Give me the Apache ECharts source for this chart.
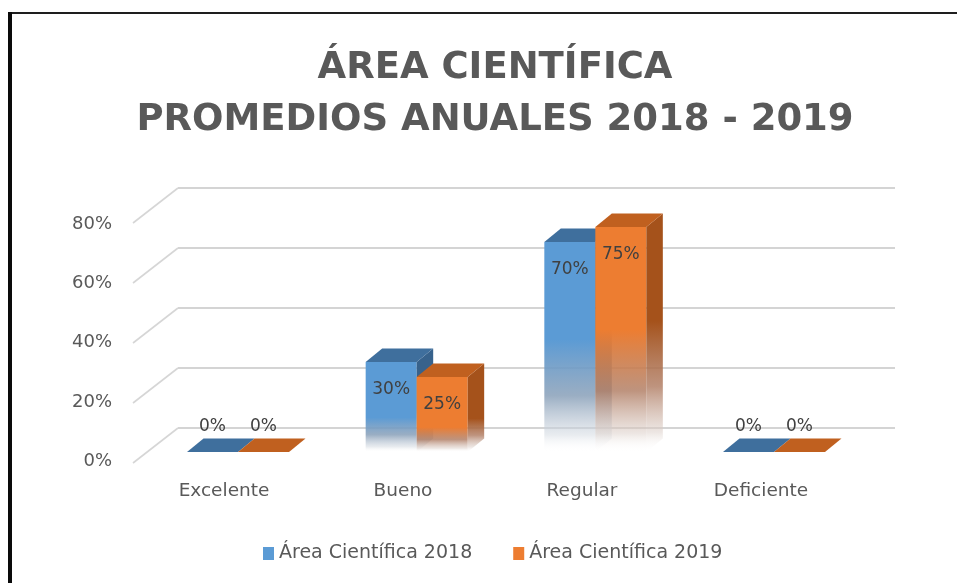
<!DOCTYPE html>
<html>
<head>
<meta charset="utf-8">
<script src="https://cdn.jsdelivr.net/npm/echarts@6/dist/echarts.min.js"></script>
<style>
  html, body { margin: 0; padding: 0; background: #ffffff; }
  #chart { width: 957px; height: 583px; }
</style>
</head>
<body>
<div id="chart"></div>
<script>
// ---- data ----
const categories = ['Excelente', 'Bueno', 'Regular', 'Deficiente'];
const seriesNames = ['Área Científica 2018', 'Área Científica 2019'];
const values2018 = [0, 30, 70, 0];
const values2019 = [0, 25, 75, 0];
const yTickValues = [0, 20, 40, 60, 80];

// ---- styling ----
const FONT = 'DejaVu Sans';
const TEXT_GREY = '#595959';
const PALETTE = [
  { front: '#5b9bd5', top: '#3f6f9d', side: '#37628c',
    fadeMid: 'rgba(132,156,182,0.82)', fadeLow: 'rgba(214,220,227,0.55)', fadeEnd: 'rgba(255,255,255,0)' },
  { front: '#ed7d31', top: '#c0601f', side: '#a5521b',
    fadeMid: 'rgba(176,124,98,0.82)', fadeLow: 'rgba(222,210,204,0.55)', fadeEnd: 'rgba(255,255,255,0)' }
];
const DEPTH = [16.5, -13.5];      // oblique offset of a bar's back faces
const WALL_DEPTH = [-45, 35];     // from back wall to front edge of the floor
const BAR_FRACTION = 0.2855;      // one bar's width as share of the category band

const yMax = yTickValues[yTickValues.length - 1];
const yStep = yTickValues[1] - yTickValues[0];

// glassy fade towards the floor; taller boxes fade over a longer stretch
function fadeGradient(solid, c, h) {
  const fadeLen = Math.max(20, 0.65 * h - 24);
  const s = Math.min(0.9, Math.max(0.3, 1 - fadeLen / h));
  const r = 1 - s;
  return new echarts.graphic.LinearGradient(0, 0, 0, 1, [
    { offset: 0, color: solid },
    { offset: s, color: solid },
    { offset: s + r * 0.5, color: c.fadeMid },
    { offset: s + r * 0.85, color: c.fadeLow },
    { offset: 1, color: c.fadeEnd }
  ]);
}

// 3D box for one value of one year
function makeBarRenderer(seriesIndex) {
  const c = PALETTE[seriesIndex];
  return function (params, api) {
    const cat = api.value(0);
    const v = api.value(1);
    const base = api.coord([cat, 0]);
    const top = api.coord([cat, v]);
    const band = api.size([1, 0])[0];
    const w = band * BAR_FRACTION;
    const x0 = seriesIndex === 0 ? base[0] - w : base[0];
    const x1 = x0 + w;
    const yb = base[1];
    const yt = top[1];
    const h = yb - yt;
    const dx = DEPTH[0], dy = DEPTH[1];
    const children = [];
    if (v > 0) {
      children.push({
        type: 'polygon',
        shape: { points: [[x0, yt], [x1, yt], [x1, yb], [x0, yb]] },
        style: { fill: fadeGradient(c.front, c, h) }
      });
      children.push({
        type: 'polygon',
        shape: { points: [[x1, yt], [x1 + dx, yt + dy], [x1 + dx, yb + dy], [x1, yb]] },
        style: { fill: fadeGradient(c.side, c, h - dy) }
      });
    }
    children.push({
      type: 'polygon',
      shape: { points: [[x0, yt], [x0 + dx, yt + dy], [x1 + dx, yt + dy], [x1, yt]] },
      style: { fill: c.top }
    });
    children.push({
      type: 'text',
      z2: 10,
      style: {
        text: v + '%',
        x: (x0 + x1) / 2,
        y: v > 0 ? yt + 28 : yt - 25,
        align: 'center',
        verticalAlign: 'middle',
        fill: '#404040',
        fontFamily: FONT,
        fontSize: 17
      }
    });
    return { type: 'group', children: children };
  };
}

// slanted floor edges of the side wall, one per tick
function renderWallEdges(params, api) {
  const p = api.coord([0, api.value(1)]);
  const x = params.coordSys.x;
  return {
    type: 'line',
    shape: { x1: x + WALL_DEPTH[0], y1: p[1] + WALL_DEPTH[1], x2: x, y2: p[1] },
    style: { stroke: '#d6d6d6', lineWidth: 1.6 }
  };
}

const chart = echarts.init(document.getElementById('chart'), null, { renderer: 'canvas' });

chart.setOption({
  backgroundColor: '#ffffff',
  animation: false,
  title: {
    text: 'ÁREA CIENTÍFICA\nPROMEDIOS ANUALES 2018 - 2019',
    left: 490,
    top: 37,
    textAlign: 'center',
    textStyle: {
      fontFamily: FONT,
      fontWeight: 'bold',
      fontSize: 37,
      lineHeight: 52,
      color: TEXT_GREY
    }
  },
  legend: {
    data: seriesNames,
    left: 258,
    top: 539,
    icon: 'rect',
    itemWidth: 11,
    itemHeight: 13,
    itemGap: 41,
    textStyle: { fontFamily: FONT, fontSize: 19, color: TEXT_GREY }
  },
  grid: [
    // back wall
    { left: 178, right: 62, top: 188, bottom: 155 },
    // front edge: axis labels
    { left: 134.5, right: 106.5, top: 224, bottom: 121.5 },
    // bar plane
    { left: 148.7, right: 93.7, top: 212, bottom: 131 }
  ],
  xAxis: [
    { gridIndex: 0, type: 'value', min: 0, max: 1, show: false },
    {
      gridIndex: 1, type: 'category', data: categories,
      axisLine: { show: false }, axisTick: { show: false },
      axisLabel: { margin: 20, fontFamily: FONT, fontSize: 18.5, color: TEXT_GREY }
    },
    { gridIndex: 2, type: 'category', data: categories, show: false }
  ],
  yAxis: [
    {
      gridIndex: 0, type: 'value', min: 0, max: yMax, interval: yStep,
      axisLine: { show: false }, axisTick: { show: false }, axisLabel: { show: false },
      splitLine: { show: true, lineStyle: { color: '#d4d4d4', width: 2 } }
    },
    {
      gridIndex: 1, type: 'value', min: 0, max: yMax, interval: yStep,
      axisLine: { show: false }, axisTick: { show: false }, splitLine: { show: false },
      axisLabel: { margin: 22.5, formatter: '{value}%', fontFamily: FONT, fontSize: 18, color: TEXT_GREY }
    },
    { gridIndex: 2, type: 'value', min: 0, max: yMax, interval: yStep, show: false }
  ],
  series: [
    {
      type: 'custom',
      name: 'wall',
      xAxisIndex: 0, yAxisIndex: 0,
      silent: true,
      renderItem: renderWallEdges,
      data: yTickValues.map(v => [0, v]),
      z: 1
    },
    {
      type: 'custom',
      name: seriesNames[0],
      xAxisIndex: 2, yAxisIndex: 2,
      itemStyle: { color: PALETTE[0].front },
      renderItem: makeBarRenderer(0),
      data: values2018.map((v, i) => [i, v]),
      z: 3
    },
    {
      type: 'custom',
      name: seriesNames[1],
      xAxisIndex: 2, yAxisIndex: 2,
      itemStyle: { color: PALETTE[1].front },
      renderItem: makeBarRenderer(1),
      data: values2019.map((v, i) => [i, v]),
      z: 3
    }
  ],
  graphic: [
    { type: 'line', silent: true, shape: { x1: 8, y1: 13, x2: 957, y2: 13 }, style: { stroke: '#1e1e1e', lineWidth: 2 } },
    { type: 'line', silent: true, shape: { x1: 10, y1: 12, x2: 10, y2: 583 }, style: { stroke: '#0a0a0a', lineWidth: 4 } }
  ]
});
</script>
</body>
</html>
